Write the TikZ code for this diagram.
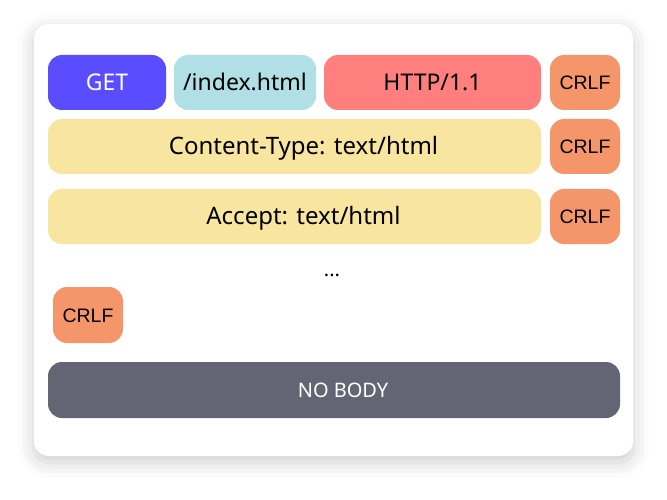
\documentclass[tikz,border=0pt]{standalone}
\usepackage{fontspec}
\setmainfont{Noto Sans}
\newfontfamily\crlffont{Liberation Sans}
\usetikzlibrary{shadows.blur}
\definecolor{getblue}{HTML}{5A4CFF}
\definecolor{pathcyan}{HTML}{B0DFE5}
\definecolor{verred}{HTML}{FF7F7F}
\definecolor{crlforange}{HTML}{F4966A}
\definecolor{hdryellow}{HTML}{F8E5A0}
\definecolor{bodygrey}{HTML}{636575}
% text in the wide rows sits a little right of the box centre
\newcommand{\wideindent}{\hspace*{18pt}}
\tikzset{
  field/.style={rounded corners=14pt, inner sep=0pt, minimum height=55pt,
    font=\fontsize{23}{27}\selectfont, text height=16.4pt, text depth=0pt, text=black},
  header/.style={field, fill=hdryellow, minimum width=493pt,
    font=\fontsize{24}{28}\selectfont, text height=17pt},
  crlf/.style={field, fill=crlforange, minimum width=70pt,
    font=\crlffont\fontsize{19.5}{23}\selectfont, text height=14pt},
}
\begin{document}
\begin{tikzpicture}[x=1pt,y=-1pt]
  \useasboundingbox (0,0) rectangle (667,500);
  % card with soft shadow
  \fill[white, rounded corners=15pt,
    blur shadow={shadow xshift=0pt, shadow yshift=-6pt, shadow blur radius=16pt, shadow opacity=20}]
    (34,24) rectangle (633,456);
  % request line
  \node[field, fill=getblue, text=white, minimum width=118pt] (get) at (107,82.5) {GET};
  \node[field, fill=pathcyan, minimum width=142pt] (path) at (245,82.5) {/index.html};
  \node[field, fill=verred, minimum width=217pt] (ver) at (432.5,82.5) {HTTP/1.1};
  \node[crlf] (crlf1) at (585,82.5) {CRLF};
  % headers
  \node[header] (ctype) at (294.5,146.5) {\wideindent Content-Type: text/html};
  \node[crlf] (crlf2) at (585,146.5) {CRLF};
  \node[header] (accept) at (294.5,216.5) {\wideindent Accept: text/html};
  \node[crlf] (crlf3) at (585,216.5) {CRLF};
  \node[inner sep=0pt, anchor=base, font=\fontsize{20}{24}\selectfont] (dots) at (332,276) {...};
  % empty line
  \node[crlf, minimum height=56pt] (crlf4) at (88,315) {CRLF};
  % body
  \node[field, fill=bodygrey, text=white, minimum width=572pt, minimum height=56pt,
    font=\fontsize{20}{24}\selectfont, text height=14.3pt] (body) at (334,390) {\wideindent NO BODY};
\end{tikzpicture}
\end{document}
